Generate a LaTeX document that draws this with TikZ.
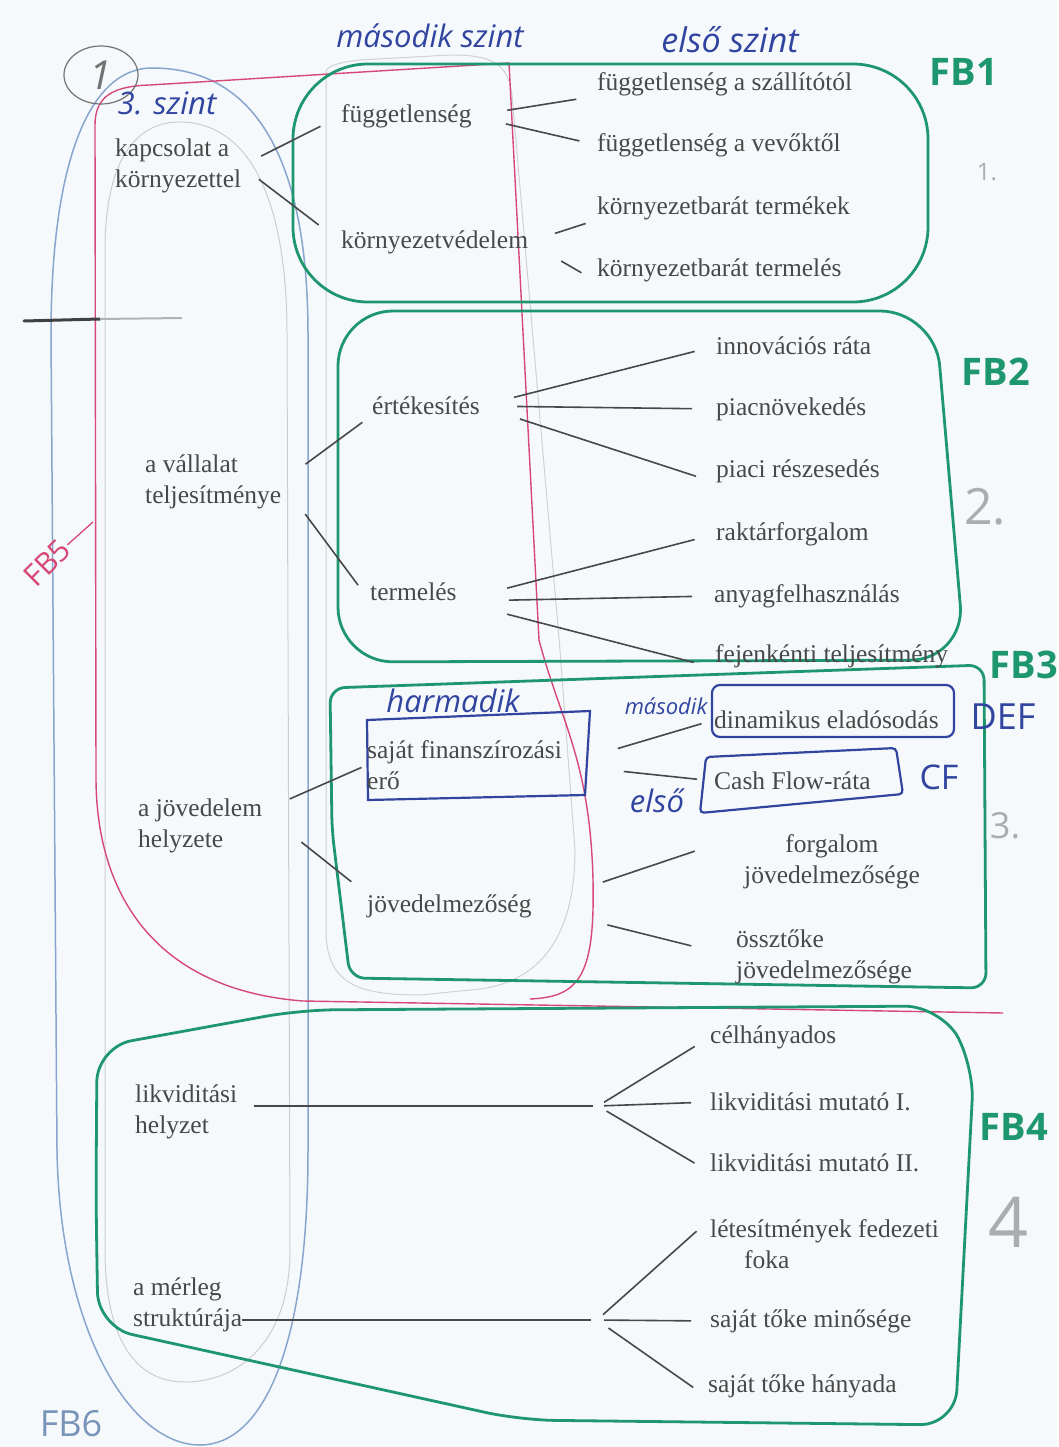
\documentclass[tikz,border=0pt]{standalone}
\usepackage{fontspec}
\setmainfont{Liberation Serif}
\newfontfamily\handfont{Open Sans}
\usetikzlibrary{shapes.geometric}

\definecolor{paper}{RGB}{246,249,251}
\definecolor{ink}{RGB}{72,72,72}
\definecolor{fbgreen}{RGB}{30,150,110}
\definecolor{fbred}{RGB}{214,72,118}
\definecolor{fbblue}{RGB}{135,165,205}
\definecolor{penblue}{RGB}{48,68,160}
\definecolor{pencil}{RGB}{170,172,178}

\begin{document}
\begin{tikzpicture}[x=1pt, y=-1pt,
  txt/.style={anchor=west, inner sep=0pt, text=ink, align=left,
    font=\fontsize{25.5}{31}\selectfont},
  conn/.style={draw=ink, line width=1.6pt, shorten <=22pt, shorten >=22pt},
  fan/.style={conn, shorten <=38pt, shorten >=22pt},
  hand/.style={text=penblue, inner sep=0pt,
    font=\handfont\itshape\fontsize{31}{33}\selectfont},
  fblabel/.style={text=fbgreen, inner sep=0pt,
    font=\handfont\bfseries\fontsize{38}{40}\selectfont},
  pencilnum/.style={text=pencil, inner sep=0pt, font=\handfont},
  greenbox/.style={draw=fbgreen, line width=2.8pt},
  bluebox/.style={draw=penblue, line width=2.2pt},
  ]

\fill[paper] (0,0) rectangle (1057,1447);

% pencil outlines
\draw[pencil!60, line width=1pt] (183,122) .. controls (250,125) and (287,200) .. (287,335)
  -- (290,1250) .. controls (290,1340) and (240,1382) .. (185,1382)
  .. controls (130,1382) and (105,1330) .. (105,1250) -- (105,250)
  .. controls (105,170) and (130,120) .. (183,122);
\draw[pencil!55, line width=1pt] (326,72) -- (326,930) .. controls (326,985) and (360,995) .. (420,995)
  -- (470,990) .. controls (545,985) and (575,930) .. (575,850) -- (560,650) -- (512,95)
  .. controls (508,62) and (490,55) .. (450,55) -- (360,60) .. controls (340,62) and (326,66) .. (326,72);

% FB6 (blue)
\draw[fbblue, line width=1.5pt] (152,68) .. controls (250,68) and (308,150) .. (308,335)
  -- (308,1150) .. controls (308,1350) and (262,1445) .. (200,1445)
  .. controls (130,1445) and (60,1330) .. (57,1150) -- (51,335)
  .. controls (51,160) and (90,68) .. (152,68);

% FB5 (red)
\draw[fbred, line width=1.4pt] (1003,1013) -- (303,1001) .. controls (160,990) and (97,900) .. (96,780)
  -- (95,125) .. controls (95,95) and (115,86) .. (150,85) -- (509,63) -- (539,640)
  .. controls (560,720) and (590,760) .. (593,880) .. controls (595,975) and (580,997) .. (530,999);

% FB1 - FB4 (green)
\draw[greenbox, rounded corners=75pt] (293,64) rectangle (928,302);
\draw[greenbox, rounded corners=55pt] (338,480) -- (338,311) -- (935,311) -- (965,660) -- (338,662) -- cycle;
\draw[greenbox, rounded corners=15pt] (332,830) -- (330,688) -- (984,665) -- (986,988) -- (350,978) -- cycle;
\draw[greenbox, rounded corners=35pt] (96,1200) -- (97,1047) -- (300,1010) -- (940,1006) -- (974,1065)
  -- (955,1425) -- (520,1420) -- (98,1327) -- cycle;

% blue boxes
\draw[bluebox] (367,720) -- (590,711) -- (585,795) -- (368,800) -- cycle;
\draw[bluebox, rounded corners=8pt] (712,685) rectangle (954,737);
\draw[bluebox, rounded corners=4pt] (706,757) -- (896,748) -- (903,794) -- (700,813) -- cycle;

% smudge
\draw[black!75, line width=3pt, line cap=round] (24,321) -- (100,319);
\draw[black!30, line width=2pt] (100,319) -- (182,318);

% printed texts
\node[txt] (kap) at (115,166) {kapcsolat a\\környezettel};
\node[txt] (fugg) at (341,116) {függetlenség};
\node[txt] (kvv) at (341,242) {környezetvédelem};
\node[txt] (fsz) at (597,84) {függetlenség a szállítótól};
\node[txt] (fve) at (597,145) {függetlenség a vevőktől};
\node[txt] (kbt) at (597,208) {környezetbarát termékek};
\node[txt] (kbtl) at (597,270) {környezetbarát termelés};

\node[txt] (vall) at (145,482) {a vállalat\\teljesítménye};
\node[txt] (ert) at (372,406) {értékesítés};
\node[txt] (term) at (370,592) {termelés};
\node[txt] (inno) at (716,346) {innovációs ráta};
\node[txt] (piac) at (716,409) {piacnövekedés};
\node[txt] (prz) at (716,471) {piaci részesedés};
\node[txt] (rakt) at (716,534) {raktárforgalom};
\node[txt] (anyag) at (714,596) {anyagfelhasználás};
\node[txt] (fej) at (715,656) {fejenkénti teljesítmény};

\node[txt] (joh) at (138,826) {a jövedelem\\helyzete};
\node[txt] (sfe) at (367,765) {saját finanszírozási\\erő};
\node[txt] (jov) at (367,906) {jövedelmezőség};
\node[txt] (dina) at (714,720) {dinamikus eladósodás};
\node[txt] (cfr) at (714,781) {Cash Flow-ráta};
\node[txt, align=center] (forg) at (744,862) {forgalom\\jövedelmezősége};
\node[txt] (ossz) at (736,957) {össztőke\\jövedelmezősége};

\node[txt] (lik) at (135,1112) {likviditási\\helyzet};
\node[txt] (celh) at (710,1037) {célhányados};
\node[txt] (lm1) at (710,1102) {likviditási mutató I.};
\node[txt] (lm2) at (710,1163) {likviditási mutató II.};
\node[txt] (letes) at (710,1244) {létesítmények fedezeti\\\hspace*{34pt}foka};
\node[txt] (mer) at (133,1305) {a mérleg\\struktúrája};
\node[txt] (stm) at (710,1321) {saját tőke minősége};
\node[txt] (sth) at (708,1386) {saját tőke hányada};

\coordinate (likJ) at (598,1106);
\coordinate (merJ) at (597,1320);

% connectors
\draw[conn, shorten <=22pt, shorten >=23pt] (kap.east) -- (fugg.west);
\draw[conn, shorten <=22pt, shorten >=28pt] (kap.east) -- (kvv.west);
\draw[conn, shorten <=36pt, shorten >=21pt] (fugg.east) -- (fsz.south west);
\draw[conn, shorten <=35pt, shorten >=18pt] (fugg.east) -- (fve.west);
\draw[conn, shorten <=28pt, shorten >=12pt] (kvv.east) -- (kbt.south west);
\draw[conn, shorten <=38pt, shorten >=18pt] (kvv.east) -- (kbtl.south west);

\draw[conn, shorten <=30pt, shorten >=12pt] (vall.east) -- (ert.south west);
\draw[conn, shorten <=40pt, shorten >=20pt] (vall.east) -- (term.south west);
\draw[fan, shorten <=35pt] (ert.east) -- (inno.west);
\draw[fan, shorten <=37pt, shorten >=24pt] (ert.east) -- (piac.west);
\draw[fan, shorten <=42pt, shorten >=21pt] (ert.east) -- (prz.south west);
\foreach \n in {rakt,anyag}
  \draw[fan, shorten <=52pt] (term.south east) -- (\n.west);
\draw[fan, shorten <=52pt] (term.south east) -- (fej.south west);

\draw[conn, shorten <=30pt, shorten >=6pt] ([yshift=15pt]joh.east) -- (sfe.west);
\draw[conn, shorten <=50pt, shorten >=20pt] ([yshift=15pt]joh.east) -- (jov.north west);
\draw[conn, shorten <=58pt, shorten >=13pt] (sfe.east) -- (dina.west);
\draw[conn, shorten <=62pt, shorten >=17pt] (sfe.east) -- (cfr.west);
\draw[conn, shorten <=75pt, shorten >=52pt] (jov.east) -- (forg.north west);
\draw[conn, shorten <=78pt, shorten >=46pt] (jov.east) -- (ossz.west);

\draw[conn, shorten <=17pt, shorten >=5pt] ([yshift=6pt]lik.east) -- (likJ);
\draw[conn, shorten <=7pt, shorten >=18pt] (likJ) -- (celh.west);
\draw[conn, shorten <=6pt, shorten >=19pt] (likJ) -- (lm1.west);
\draw[conn, shorten <=10pt, shorten >=18pt] (likJ) -- (lm2.south west);

\draw[conn, shorten <=0pt, shorten >=6pt] ([yshift=-15pt]mer.east) -- (merJ);
\draw[conn, shorten <=8pt, shorten >=18pt] (merJ) -- (letes.north west);
\draw[conn, shorten <=7pt, shorten >=19pt] (merJ) -- (stm.west);
\draw[conn, shorten <=14pt, shorten >=18pt] (merJ) -- (sth.south west);

% handwritten notes
\node[ellipse, draw=black!55, line width=1.2pt, minimum width=74pt, minimum height=58pt,
  inner sep=0pt, text=black!55, font=\handfont\itshape\fontsize{40}{40}\selectfont] (sheet) at (101,75) {1};
\node[hand] (lvlTwo) at (430,36) {második szint};
\node[hand, font=\handfont\itshape\fontsize{34}{36}\selectfont] (lvlOne) at (730,40) {első szint};
\node[hand] (lvlThree) at (167,103) {3. szint};
\node[hand] (harm) at (453,701) {harmadik};
\node[hand, font=\handfont\itshape\fontsize{22}{24}\selectfont] (masod) at (666,706) {második};
\node[hand] (elso) at (657,801) {első};
\node[hand, font=\handfont\fontsize{36}{38}\selectfont] (def) at (1003,717) {DEF};
\node[hand, font=\handfont\fontsize{34}{36}\selectfont] (cf) at (939,777) {CF};

\node[fblabel] (lblFBone) at (964,72) {FB1};
\node[fblabel] (lblFBtwo) at (996,372) {FB2};
\node[fblabel] (lblFBthree) at (1024,665) {FB3};
\node[fblabel] (lblFBfour) at (1014,1127) {FB4};
\node[rotate=45, text=fbred, inner sep=1pt, font=\handfont\fontsize{30}{32}\selectfont] (lblFBfive) at (47,563) {FB5};
\node[text=fbblue!90!black, inner sep=0pt, font=\handfont\fontsize{36}{38}\selectfont] (lblFBsix) at (71,1424) {FB6};
\coordinate (redEdge) at (93,522);
\draw[fbred, line width=1.3pt] (lblFBfive) -- (redEdge);

\node[pencilnum, font=\handfont\fontsize{24}{26}\selectfont] (numOne) at (987,172) {1.};
\node[pencilnum, font=\handfont\fontsize{50}{52}\selectfont] (numTwo) at (985,507) {2.};
\node[pencilnum, font=\handfont\fontsize{36}{38}\selectfont] (numThree) at (1005,826) {3.};
\node[pencilnum, font=\handfont\fontsize{70}{72}\selectfont] (numFour) at (1008,1222) {4};

\end{tikzpicture}
\end{document}
